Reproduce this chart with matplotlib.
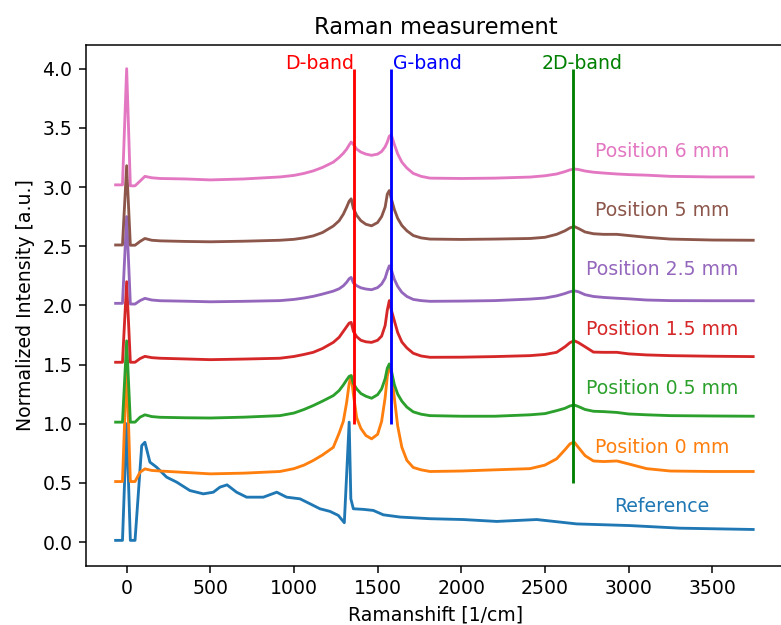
import matplotlib
matplotlib.use("Agg")
import matplotlib.pyplot as plt
import numpy as np

# Raman shift grid shared by the sample positions [1/cm]
shift = [-66, -25, 0, 22, 50, 80, 109, 150, 200, 350, 500, 700, 916, 1000,
         1060, 1115, 1170, 1235, 1270, 1295, 1315, 1330, 1342, 1355, 1375,
         1400, 1430, 1464, 1500, 1524, 1545, 1558, 1570, 1582, 1600, 1620,
         1645, 1675, 1713, 1760, 1813, 2000, 2200, 2411, 2500, 2570, 2620,
         2650, 2675, 2700, 2740, 2790, 2850, 2930, 3000, 3108, 3250, 3500, 3745]

# normalized intensity, before stacking offsets
pos_0mm = [0.011, 0.011, 1.0, 0.011, 0.011, 0.090, 0.118, 0.105, 0.100, 0.088,
           0.076, 0.082, 0.096, 0.120, 0.150, 0.189, 0.235, 0.300, 0.420, 0.520,
           0.680, 0.840, 0.906, 0.750, 0.550, 0.460, 0.400, 0.372, 0.410, 0.520,
           0.720, 0.900, 0.980, 0.930, 0.720, 0.480, 0.300, 0.190, 0.130, 0.110,
           0.096, 0.100, 0.110, 0.120, 0.150, 0.203, 0.280, 0.330, 0.344, 0.300,
           0.230, 0.185, 0.180, 0.185, 0.160, 0.120, 0.100, 0.096, 0.096]
pos_05mm = [0.013, 0.013, 0.70, 0.013, 0.013, 0.055, 0.075, 0.060, 0.054, 0.050,
            0.048, 0.055, 0.068, 0.090, 0.120, 0.153, 0.190, 0.237, 0.280, 0.327,
            0.370, 0.400, 0.406, 0.340, 0.294, 0.255, 0.232, 0.215, 0.245, 0.294,
            0.380, 0.470, 0.505, 0.450, 0.330, 0.250, 0.190, 0.140, 0.100, 0.080,
            0.068, 0.063, 0.063, 0.075, 0.085, 0.110, 0.130, 0.150, 0.158, 0.145,
            0.120, 0.105, 0.102, 0.095, 0.082, 0.075, 0.068, 0.065, 0.063]
pos_15mm = [0.019, 0.019, 0.70, 0.019, 0.019, 0.050, 0.069, 0.058, 0.053, 0.047,
            0.041, 0.046, 0.053, 0.068, 0.085, 0.103, 0.135, 0.187, 0.230, 0.280,
            0.320, 0.350, 0.356, 0.280, 0.235, 0.205, 0.192, 0.187, 0.205, 0.240,
            0.330, 0.460, 0.540, 0.460, 0.370, 0.270, 0.190, 0.140, 0.095, 0.072,
            0.061, 0.062, 0.067, 0.075, 0.085, 0.103, 0.150, 0.185, 0.201, 0.185,
            0.150, 0.105, 0.103, 0.103, 0.090, 0.081, 0.075, 0.070, 0.067]
pos_25mm = [0.017, 0.017, 0.75, 0.011, 0.011, 0.040, 0.059, 0.045, 0.039, 0.035,
            0.030, 0.034, 0.040, 0.050, 0.062, 0.076, 0.095, 0.120, 0.140, 0.165,
            0.195, 0.225, 0.236, 0.190, 0.166, 0.148, 0.138, 0.132, 0.150, 0.180,
            0.230, 0.290, 0.334, 0.300, 0.220, 0.160, 0.110, 0.075, 0.050, 0.040,
            0.034, 0.036, 0.040, 0.053, 0.062, 0.080, 0.100, 0.115, 0.123, 0.115,
            0.090, 0.075, 0.067, 0.060, 0.055, 0.045, 0.040, 0.039, 0.039]
pos_5mm = [0.010, 0.010, 0.68, 0.008, 0.008, 0.040, 0.065, 0.050, 0.045, 0.040,
           0.037, 0.042, 0.050, 0.058, 0.070, 0.087, 0.115, 0.170, 0.215, 0.270,
           0.330, 0.380, 0.400, 0.320, 0.260, 0.215, 0.185, 0.172, 0.200, 0.250,
           0.330, 0.440, 0.470, 0.400, 0.310, 0.235, 0.175, 0.130, 0.090, 0.070,
           0.060, 0.057, 0.060, 0.065, 0.075, 0.100, 0.130, 0.155, 0.166, 0.150,
           0.120, 0.105, 0.100, 0.100, 0.090, 0.075, 0.060, 0.052, 0.050]
pos_6mm = [0.018, 0.018, 1.0, 0.010, 0.010, 0.050, 0.090, 0.078, 0.072, 0.068,
           0.060, 0.068, 0.085, 0.098, 0.115, 0.136, 0.165, 0.210, 0.250, 0.285,
           0.320, 0.355, 0.380, 0.360, 0.320, 0.295, 0.278, 0.268, 0.278, 0.300,
           0.340, 0.380, 0.430, 0.440, 0.360, 0.280, 0.210, 0.160, 0.115, 0.090,
           0.075, 0.072, 0.075, 0.084, 0.095, 0.110, 0.130, 0.145, 0.152, 0.148,
           0.135, 0.125, 0.118, 0.110, 0.105, 0.100, 0.090, 0.085, 0.085]

# reference substrate spectrum
shift_ref = [-66, -25, 0, 22, 50, 90, 109, 139, 179, 239, 299, 378, 458, 518,
             558, 600, 657, 717, 817, 897, 956, 1036, 1096, 1155, 1215, 1265,
             1301, 1330, 1340, 1355, 1414, 1474, 1534, 1634, 1813, 2012, 2212,
             2451, 2690, 3008, 3307, 3745]
reference = [0.014, 0.014, 1.0, 0.014, 0.014, 0.815, 0.843, 0.675, 0.632, 0.548,
             0.506, 0.435, 0.407, 0.421, 0.464, 0.483, 0.421, 0.379, 0.379, 0.421,
             0.379, 0.365, 0.323, 0.281, 0.259, 0.225, 0.163, 1.013, 0.365, 0.281,
             0.276, 0.267, 0.230, 0.211, 0.197, 0.190, 0.174, 0.190, 0.153, 0.139,
             0.117, 0.106]

labels = ["Reference", "Position 0 mm", "Position 0.5 mm", "Position 1.5 mm",
          "Position 2.5 mm", "Position 5 mm", "Position 6 mm"]
offsets = [0.0, 0.5, 1.0, 1.5, 2.0, 2.5, 3.0]

# band positions [1/cm] and marker line extents
bands = ["D-band", "G-band", "2D-band"]
band_pos = [1360, 1580, 2670]
band_ymin = [1.0, 1.0, 0.5]
band_ymax = 4.0
band_colors = ["red", "blue", "green"]

spectra = [(shift_ref, reference), (shift, pos_0mm), (shift, pos_05mm),
           (shift, pos_15mm), (shift, pos_25mm), (shift, pos_5mm), (shift, pos_6mm)]

DPI = 136
fig = plt.figure(figsize=(781 / DPI, 625 / DPI), dpi=DPI)
ax = fig.add_axes([0.1097, 0.0949, 0.8954, 0.8331])

for i, ((x, y), lab, off) in enumerate(zip(spectra, labels, offsets)):
    col = f"C{i}"
    ax.plot(x, np.asarray(y) + off, color=col)
    ax.text(3200, off + 0.3, lab, color=col, ha="center", va="center")

for name, xb, y0, col in zip(bands, band_pos, band_ymin, band_colors):
    ax.vlines(xb, y0, band_ymax, color=col)

ax.text(band_pos[0], band_ymax, bands[0], color=band_colors[0], ha="right")
ax.text(band_pos[1] + 10, band_ymax, bands[1], color=band_colors[1], ha="left")
ax.text(band_pos[2] + 50, band_ymax, bands[2], color=band_colors[2], ha="center")

ax.set_xlim(-245, 3935)
ax.set_ylim(-0.2, 4.2)
ax.set_xticks(np.arange(0, 3501, 500))
ax.set_yticks(np.arange(0, 4.01, 0.5))
ax.set_xlabel("Ramanshift [1/cm]")
ax.set_ylabel("Normalized Intensity [a.u.]")
ax.set_title("Raman measurement")

fig.savefig("out.png", dpi=DPI)
